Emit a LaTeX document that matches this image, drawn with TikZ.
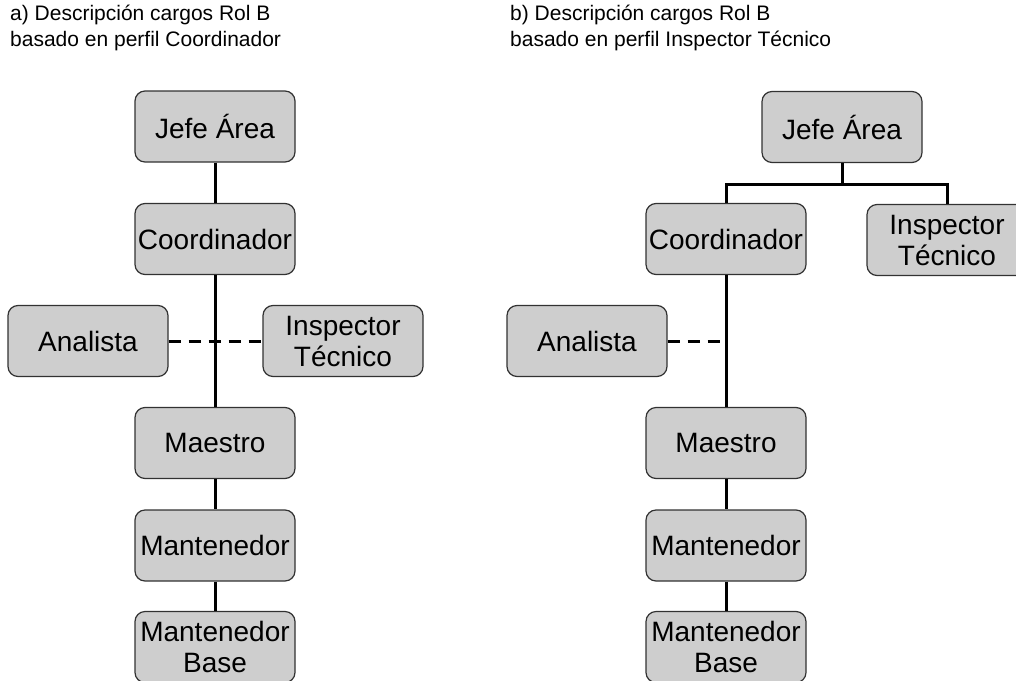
\documentclass[tikz,border=0pt]{standalone}
\usepackage{fontspec}
\setmainfont{Liberation Sans}
\definecolor{boxgray}{RGB}{206,206,206}
\definecolor{boxline}{RGB}{50,50,50}
\begin{document}
\begin{tikzpicture}[x=1pt,y=-1pt,
  role/.style={draw=boxline, line width=1.2pt, fill=boxgray, rounded corners=10pt,
    minimum width=160pt, minimum height=71pt, inner sep=0pt, align=center,
    font=\fontsize{28}{31}\selectfont},
  link/.style={line width=3pt},
  dashlink/.style={line width=3pt, dash pattern=on 12pt off 8pt},
  heading/.style={anchor=base west, align=left, inner sep=0pt,
    font=\fontsize{21}{26}\selectfont}]
\useasboundingbox (0,0) rectangle (1016,680);
\clip (0,0) rectangle (1016,680);

% ---- a) chart built around the coordinator profile ----
\node[heading] (ta) at (10,46) {a) Descripción cargos Rol B\\basado en perfil Coordinador};

\node[role] (aj)  at (215,126.5) {Jefe Área};
\node[role] (ac)  at (215,239)   {Coordinador};
\node[role] (aan) at (88,341)    {Analista};
\node[role] (ain) at (343,341)   {Inspector\\Técnico};
\node[role] (am)  at (215,443)   {Maestro};
\node[role] (amt) at (215,545.5) {Mantenedor};
\node[role] (amb) at (215,647)   {Mantenedor\\Base};

\draw[link] (aj) -- (ac);
\draw[link] (ac) -- (am);
\draw[link] (am) -- (amt);
\draw[link] (amt) -- (amb);
\draw[dashlink] (aan) -- (ain);

% ---- b) chart built around the technical inspector profile ----
\node[heading] (tb) at (510,46) {b) Descripción cargos Rol B\\basado en perfil Inspector Técnico};

\node[role] (bj)  at (842,127)   {Jefe Área};
\node[role] (bc)  at (726,239)   {Coordinador};
\node[role] (bin) at (947,240)   {Inspector\\Técnico};
\node[role] (ban) at (587,341)   {Analista};
\node[role] (bm)  at (726,443)   {Maestro};
\node[role] (bmt) at (726,545.5) {Mantenedor};
\node[role] (bmb) at (726,647)   {Mantenedor\\Base};

\coordinate (bfork) at (842,184);
\draw[link] (bj.south) -- (bfork);
\draw[link] (bc.north) |- (bfork) -| (bin.north);
\draw[link] (bc) -- (bm);
\draw[link] (bm) -- (bmt);
\draw[link] (bmt) -- (bmb);
\draw[dashlink] (ban.east) -- (ban.east -| bc.south);
\end{tikzpicture}
\end{document}
